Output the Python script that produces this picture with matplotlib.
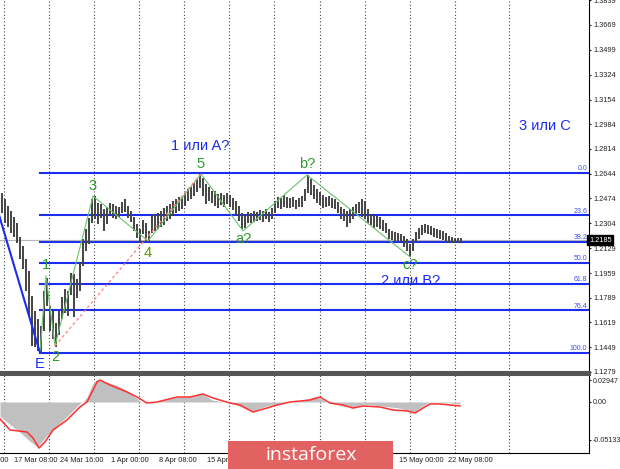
import numpy as np
import matplotlib
matplotlib.use("Agg")
from matplotlib import pyplot as plt
from matplotlib.patches import Rectangle

# H4 bars (one entry per bar)
highs = [1.2511, 1.2470, 1.2422, 1.2387, 1.2346, 1.2305, 1.2208, 1.2146, 1.2057, 1.1974,
         1.1802, 1.1699, 1.1644, 1.1596, 1.1837, 1.1926, 1.1734, 1.1699, 1.1617, 1.1699,
         1.1796, 1.1851, 1.1837, 1.1961, 1.1954, 1.1919, 1.2029, 1.2195, 1.2263, 1.2339,
         1.2470, 1.2490, 1.2442, 1.2435, 1.2401, 1.2415, 1.2442, 1.2435, 1.2422, 1.2415,
         1.2449, 1.2470, 1.2422, 1.2387, 1.2346, 1.2298, 1.2263, 1.2325, 1.2305, 1.2250,
         1.2360, 1.2367, 1.2373, 1.2387, 1.2408, 1.2422, 1.2435, 1.2456, 1.2470, 1.2483,
         1.2490, 1.2511, 1.2539, 1.2552, 1.2580, 1.2607, 1.2642, 1.2614, 1.2573, 1.2552,
         1.2525, 1.2525, 1.2504, 1.2511, 1.2497, 1.2511, 1.2497, 1.2477, 1.2456, 1.2422,
         1.2373, 1.2360, 1.2380, 1.2373, 1.2387, 1.2380, 1.2394, 1.2387, 1.2401, 1.2380,
         1.2408, 1.2456, 1.2483, 1.2477, 1.2497, 1.2483, 1.2477, 1.2483, 1.2463, 1.2477,
         1.2490, 1.2539, 1.2635, 1.2607, 1.2566, 1.2539, 1.2518, 1.2497, 1.2483, 1.2490,
         1.2477, 1.2470, 1.2449, 1.2415, 1.2401, 1.2387, 1.2401, 1.2415, 1.2435, 1.2449,
         1.2470, 1.2456, 1.2401, 1.2367, 1.2360, 1.2353, 1.2346, 1.2325, 1.2305, 1.2263,
         1.2250, 1.2243, 1.2236, 1.2229, 1.2215, 1.2195, 1.2160, 1.2195, 1.2243, 1.2270,
         1.2291, 1.2298, 1.2291, 1.2284, 1.2270, 1.2263, 1.2257, 1.2250, 1.2236, 1.2215,
         1.2208, 1.2201, 1.2201, 1.2201]
lows = [1.2373, 1.2305, 1.2277, 1.2236, 1.2208, 1.2167, 1.2057, 1.1988, 1.1837, 1.1665,
        1.1458, 1.1452, 1.1424, 1.1410, 1.1562, 1.1734, 1.1562, 1.1507, 1.1452, 1.1534,
        1.1644, 1.1685, 1.1665, 1.1809, 1.1658, 1.1789, 1.1837, 1.2009, 1.2112, 1.2160,
        1.2305, 1.2332, 1.2298, 1.2339, 1.2250, 1.2298, 1.2360, 1.2339, 1.2332, 1.2346,
        1.2373, 1.2380, 1.2339, 1.2312, 1.2250, 1.2201, 1.2167, 1.2229, 1.2174, 1.2181,
        1.2236, 1.2250, 1.2263, 1.2277, 1.2291, 1.2318, 1.2332, 1.2353, 1.2373, 1.2387,
        1.2401, 1.2422, 1.2456, 1.2470, 1.2490, 1.2518, 1.2545, 1.2490, 1.2435, 1.2456,
        1.2442, 1.2422, 1.2408, 1.2428, 1.2415, 1.2435, 1.2415, 1.2394, 1.2360, 1.2318,
        1.2263, 1.2270, 1.2305, 1.2305, 1.2312, 1.2318, 1.2325, 1.2312, 1.2332, 1.2312,
        1.2332, 1.2373, 1.2408, 1.2401, 1.2415, 1.2408, 1.2408, 1.2415, 1.2401, 1.2415,
        1.2415, 1.2456, 1.2511, 1.2497, 1.2470, 1.2442, 1.2428, 1.2408, 1.2415, 1.2422,
        1.2408, 1.2401, 1.2373, 1.2332, 1.2318, 1.2277, 1.2305, 1.2332, 1.2360, 1.2373,
        1.2346, 1.2332, 1.2305, 1.2291, 1.2270, 1.2277, 1.2263, 1.2250, 1.2236, 1.2195,
        1.2188, 1.2181, 1.2181, 1.2174, 1.2140, 1.2112, 1.2071, 1.2112, 1.2174, 1.2195,
        1.2222, 1.2236, 1.2229, 1.2222, 1.2208, 1.2201, 1.2195, 1.2188, 1.2174, 1.2167,
        1.2167, 1.2167, 1.2167, 1.2174]
last_price = 1.2185

# wave marks (bar index, price)
wave_names = ["E", "1", "2", "3", "4", "5", "a?", "b?", "c?"]
wave_bars = [12.83, 14.83, 17.83, 30.5, 48.83, 66.5, 80.5, 101.83, 136.17]
wave_prices = [1.1410, 1.1940, 1.1458, 1.2490, 1.2181, 1.2642, 1.2250, 1.2635, 1.2071]

fib_low = 1.1410
fib_high = 1.2648
fib_levels = [0.0, 23.6, 38.2, 50.0, 61.8, 76.4, 100.0]

price_ticks = [1.3839, 1.3669, 1.3499, 1.3324, 1.3154, 1.2984, 1.2814, 1.2644, 1.2474,
               1.2304, 1.2129, 1.1959, 1.1789, 1.1619, 1.1449, 1.1279]
osc_ticks = [0.02947, 0.0, -0.05133]
# visible time labels (the rest sit under the watermark)
time_labels = ["17 Mar 08:00", "24 Mar 16:00", "1 Apr 00:00", "8 Apr 08:00",
               "15 Apr 16:00", "15 May 00:00", "22 May 08:00"]
time_label_bars = [11.5, 26.67, 42.83, 58.67, 75.5, 140.0, 156.17]
first_label = "10 Mar 00:00"
first_label_bar = -4.83
grid_bars = [0.83, 15.83, 30.83, 45.83, 60.83, 75.83, 90.83, 106.17, 121.17, 136.17, 151.17, 169.17]

# MACD main (gray) and signal (red)
macd_x = [-0.5, 2.83, 6.17, 9.5, 12.17, 15.17, 18.5, 21.83, 24.5, 26.83, 28.5, 30.5, 32.17,
          35.17, 38.5, 41.83, 45.17, 47.17, 51.83, 58.5, 63.83, 67.17, 70.5, 76.17, 81.83,
          83.83, 88.5, 91.83, 96.17, 99.5, 105.17, 108.5, 113.83, 117.17, 121.17, 127.17,
          132.83, 136.17, 137.83, 140.5, 142.83, 146.17, 150.5, 152.83]
macd_v = [-0.0204, -0.0313, -0.0422, -0.0544, -0.0626, -0.0476, -0.0340, -0.0218, -0.0109,
          -0.0014, 0.0068, 0.0258, 0.0313, 0.0272, 0.0231, 0.0163, 0.0054, -0.0014, 0.0014,
          0.0068, 0.0082, 0.0109, 0.0027, -0.0014, -0.0109, -0.0136, -0.0068, -0.0041, 0.0,
          0.0014, 0.0082, 0.0, -0.0068, -0.0082, -0.0041, -0.0068, -0.0095, -0.0136, -0.0150,
          -0.0068, -0.0014, -0.0014, -0.0027, -0.0041]
signal_x = [-0.5, 2.83, 8.5, 10.5, 12.5, 14.5, 17.17, 21.83, 26.17, 28.5, 31.83, 32.83, 36.17,
            41.83, 45.17, 48.5, 51.83, 58.5, 62.83, 67.17, 70.5, 76.17, 79.5, 83.83, 88.5,
            91.83, 96.17, 102.83, 106.17, 109.5, 113.83, 117.17, 120.5, 126.17, 130.5,
            135.17, 137.83, 140.5, 142.83, 146.17, 149.5, 152.83]
signal_v = [-0.0231, -0.0381, -0.0408, -0.0490, -0.0626, -0.0544, -0.0381, -0.0245, -0.0068,
            0.0, 0.0272, 0.0299, 0.0231, 0.0136, 0.0068, -0.0014, 0.0, 0.0068, 0.0068, 0.0109,
            0.0054, -0.0014, -0.0041, -0.0136, -0.0082, -0.0041, 0.0, 0.0027, 0.0068, -0.0014,
            -0.0041, -0.0082, -0.0054, -0.0068, -0.0109, -0.0122, -0.0150, -0.0082, -0.0027,
            -0.0027, -0.0041, -0.0054]

BLUE = "#1c2cf0"
GREEN = "#2e9a2e"
plt.rcParams["font.family"] = ["Liberation Sans", "DejaVu Sans"]

fig = plt.figure(figsize=(6.2, 4.69), dpi=100)
ax = fig.add_axes([0, 1 - 372 / 469, 589 / 620, 372 / 469])
ax2 = fig.add_axes([0, 16 / 469, 589 / 620, 79 / 469], sharex=ax)

xmin, xmax = -0.5, 195.83
bars = np.arange(len(highs))

for a in (ax, ax2):
    for g in grid_bars:
        a.axvline(g, color="#444444", lw=0.8, ls=(0, (1, 2)), zorder=1)

# fibonacci grid
fib_start = wave_bars[0]
for lvl in fib_levels:
    p = fib_high - lvl / 100 * (fib_high - fib_low)
    ax.plot([fib_start, xmax], [p, p], color=BLUE, lw=1.5, zorder=2)
    ax.text(195.2, p + 0.0006, "%.1f" % lvl, color="#3a4cff", fontsize=5,
            ha="right", va="bottom", zorder=3)

ax.axhline(last_price, color="#b5b5b5", lw=0.8, zorder=2)

ax.vlines(bars, lows, highs, colors="#444444", lw=1.4, zorder=3)

# wave lines
ax.plot(wave_bars, wave_prices, color="#6cc26c", lw=0.8, zorder=4)
ax.plot([wave_bars[2], wave_bars[5]], [wave_prices[2], wave_prices[5]],
        color="#ff8888", lw=1.0, ls=(0, (2, 2)), zorder=4)
ax.plot([-3.5, wave_bars[0]], [1.2545, wave_prices[0]], color=BLUE, lw=1.5, zorder=4)

offsets = {"E": -8, "1": 8, "2": -8, "3": 7, "4": -9, "5": 7, "a?": -6, "b?": 8, "c?": -6}
for name, b, p in zip(wave_names, wave_bars, wave_prices):
    dy = offsets[name]
    col = BLUE if name == "E" else ("#5f9a00" if name == "4" else GREEN)
    ax.annotate(name, (b, p), xytext=(0, dy), textcoords="offset points",
                ha="center", va="center", color=col, fontsize=10.5, zorder=5)

ax.text(66.17, 1.2834, "1 или A?", color=BLUE, fontsize=10.5, ha="center", va="center")
ax.text(181.17, 1.2972, "3 или С", color=BLUE, fontsize=10.5, ha="center", va="center")
ax.text(136.5, 1.1905, "2 или В?", color=BLUE, fontsize=10.5, ha="center", va="center")

ax.yaxis.tick_right()
ax.set_yticks(price_ticks)
ax.set_yticklabels(["%.4f" % t for t in price_ticks])
ax.tick_params(axis="y", labelsize=5.3, length=1.5, pad=1.5, colors="#222222")
ax.tick_params(axis="x", bottom=False, labelbottom=False)
ax.text(1.0, last_price, "1.2185", transform=ax.get_yaxis_transform(), ha="left",
        va="center", color="white", fontsize=5.3,
        bbox=dict(facecolor="black", edgecolor="black", pad=1.2))
for s in ("left", "top"):
    ax.spines[s].set_visible(False)
ax.spines["right"].set_linewidth(0.8)
ax.spines["bottom"].set_color("#555555")
ax.spines["bottom"].set_linewidth(2.2)

# oscillator
ax2.fill_between(macd_x, macd_v, 0, color="#c0c0c0", lw=0, zorder=2)
ax2.plot(macd_x, macd_v, color="white", lw=0.6, zorder=3)
ax2.plot(signal_x, signal_v, color="#ff3030", lw=1.1, zorder=4)
ax2.yaxis.tick_right()
ax2.set_yticks(osc_ticks)
ax2.set_yticklabels(["0.02947", "0.00", "-0.05133"])
ax2.tick_params(axis="y", labelsize=5.1, length=1.5, pad=1.5, colors="#222222")
ax2.set_xticks(time_label_bars)
ax2.set_xticklabels(time_labels)
ax2.tick_params(axis="x", labelsize=5.3, length=0, pad=3, colors="#222222")
# first label hangs off the left edge, as in the terminal
ax2.annotate(first_label, (first_label_bar, 0), xycoords=ax2.get_xaxis_transform(),
             xytext=(0, -3), textcoords="offset points", ha="center", va="top",
             fontsize=5.3, color="#222222", annotation_clip=False)
ax2.spines["left"].set_visible(False)
ax2.spines["top"].set_color("#555555")
ax2.spines["top"].set_linewidth(2.2)
ax2.spines["right"].set_linewidth(0.8)
ax2.spines["bottom"].set_linewidth(0.8)

# limits last, set_xticks would widen them otherwise
ax.set_xlim(xmin, xmax)
ax.set_ylim(1.1278, 1.3840)
ax2.set_ylim(-0.0694, 0.0381)

# watermark
fig.add_artist(Rectangle((228 / 620, 0), 165 / 620, 28 / 469, transform=fig.transFigure,
                         facecolor="#e26262", edgecolor="none", zorder=10))
fig.text(311 / 620, 14 / 469, "instaforex", color="white", fontsize=14,
         family=["Open Sans", "DejaVu Sans"], ha="center", va="center", zorder=11)

fig.savefig("out.png", dpi=100)
